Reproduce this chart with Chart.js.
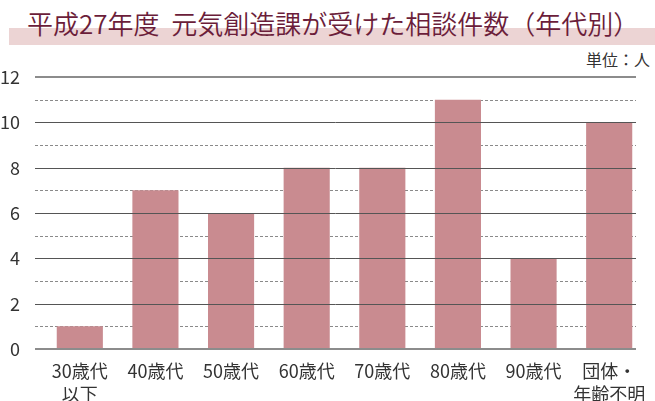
<!DOCTYPE html>
<html>
<head>
<meta charset="utf-8">
<script src="https://cdn.jsdelivr.net/npm/chart.js@4"></script>
<style>
  html, body { margin: 0; padding: 0; background: #fff; }
  body { width: 655px; height: 401px; position: relative; overflow: hidden; font-family: "Noto Sans CJK JP", sans-serif; }
  #band { position: absolute; left: 9px; top: 28px; width: 646px; height: 17px; background: #ecd4d4; }
  #title { position: absolute; left: 27px; top: 5px; font-size: 26px; font-weight: 350; color: #6b1d3a; white-space: nowrap; line-height: 36px; }
  #unit { position: absolute; right: 5px; top: 47px; font-size: 16px; font-weight: 400; color: #333; }
  #wrap { position: absolute; left: 0; top: 0; width: 655px; height: 401px; }
</style>
</head>
<body>
<div id="band"></div>
<div id="title">平成27年度&nbsp;&nbsp;元気創造課が受けた相談件数（年代別）</div>
<div id="unit">単位：人</div>
<div id="wrap"><canvas id="chart"></canvas></div>
<script>
const categories = [["30歳代", "以下"], "40歳代", "50歳代", "60歳代", "70歳代", "80歳代", "90歳代", ["団体・", "年齢不明"]];
const counts = [1, 7, 6, 8, 8, 11, 4, 10];
const yTicks = [0, 2, 4, 6, 8, 10, 12];

// grid lines drawn by hand from the y scale, solid ones over the bars
const gridPlugin = {
  id: "grid",
  beforeDatasetsDraw(chart) {
    const y = chart.scales.y;
    const ctx = chart.ctx;
    ctx.save();
    ctx.strokeStyle = "#8a8a8a";
    ctx.lineWidth = 1;
    ctx.setLineDash([3, 2]);
    for (let v = 1; v < 12; v += 2) {
      const py = Math.round(y.getPixelForValue(v)) + 0.5;
      ctx.beginPath();
      ctx.moveTo(35, py);
      ctx.lineTo(636, py);
      ctx.stroke();
    }
    ctx.restore();
  },
  afterDatasetsDraw(chart) {
    const y = chart.scales.y;
    const ctx = chart.ctx;
    ctx.save();
    yTicks.forEach(v => {
      const edge = v === 0 || v === 12;
      ctx.strokeStyle = edge ? "#8c8c8c" : "#555";
      ctx.lineWidth = edge ? 2 : 1;
      const py = edge ? Math.round(y.getPixelForValue(v)) : Math.round(y.getPixelForValue(v)) + 0.5;
      ctx.beginPath();
      ctx.moveTo(35, py);
      ctx.lineTo(636, py);
      ctx.stroke();
    });
    ctx.restore();
  }
};

new Chart(document.getElementById("chart"), {
  type: "bar",
  data: {
    labels: categories,
    datasets: [{
      data: counts,
      backgroundColor: "#c98b90",
      barPercentage: 0.61,
      categoryPercentage: 1
    }]
  },
  options: {
    responsive: true,
    maintainAspectRatio: false,
    animation: false,
    layout: { padding: { top: 77, right: 8, left: 0, bottom: 0 } },
    plugins: { legend: { display: false }, tooltip: { enabled: false } },
    scales: {
      x: {
        grid: { display: false },
        border: { display: false },
        ticks: {
          color: "#333",
          padding: 2,
          maxRotation: 0,
          font: { family: "Noto Sans CJK JP", size: 18, weight: "400", lineHeight: 1.3 }
        },
        afterFit(scale) { scale.height = 52; }
      },
      y: {
        min: 0,
        max: 12,
        grid: { display: false },
        border: { display: false },
        ticks: {
          stepSize: 2,
          color: "#333",
          padding: 14,
          font: { family: "Noto Sans CJK JP", size: 18, weight: "400" }
        },
        afterFit(scale) { scale.width = 42; }
      }
    }
  },
  plugins: [gridPlugin]
});
</script>
</body>
</html>
